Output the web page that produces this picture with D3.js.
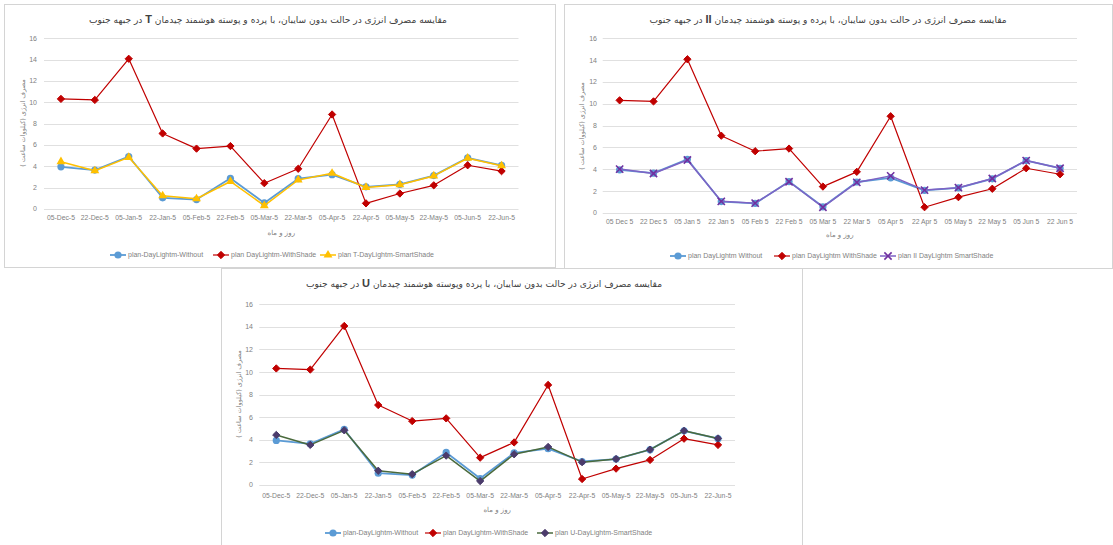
<!DOCTYPE html>
<html>
<head>
<meta charset="utf-8">
<script src="https://cdn.jsdelivr.net/npm/d3@7"></script>
<style>
  html, body { margin: 0; padding: 0; background: #fff; }
  svg { display: block; }
  .tick-label { font-family: "Liberation Sans", Arial, sans-serif; fill: #7f7f7f; }
  .fa { font-family: "DejaVu Sans", sans-serif; }
</style>
</head>
<body>
<svg id="chart" width="1113" height="545"></svg>
<script>
// Sampling dates (day-month)
const datesDash = ["05-Dec-5","22-Dec-5","05-Jan-5","22-Jan-5","05-Feb-5","22-Feb-5","05-Mar-5",
                   "22-Mar-5","05-Apr-5","22-Apr-5","05-May-5","22-May-5","05-Jun-5","22-Jun-5"];
const datesSpace = ["05 Dec 5","22 Dec 5","05 Jan 5","22 Jan 5","05 Feb 5","22 Feb 5","05 Mar 5",
                    "22 Mar 5","05 Apr 5","22 Apr 5","05 May 5","22 May 5","05 Jun 5","22 Jun 5"];
const yTicks = [0, 2, 4, 6, 8, 10, 12, 14, 16];

// Energy use (kWh) of the south facade
const withoutShade = [3.95, 3.65, 4.92, 1.05, 0.88, 2.88, 0.57, 2.84, 3.22, 2.08, 2.30, 3.13, 4.80, 4.10];
const withShade    = [10.32, 10.22, 14.08, 7.08, 5.66, 5.90, 2.42, 3.77, 8.86, 0.53, 1.45, 2.22, 4.10, 3.55];
const smartT       = [4.43, 3.58, 4.84, 1.24, 0.96, 2.58, 0.32, 2.72, 3.35, 2.02, 2.28, 3.10, 4.76, 4.05];
const smartII      = [4.02, 3.62, 4.86, 1.07, 0.90, 2.86, 0.53, 2.80, 3.40, 2.10, 2.32, 3.16, 4.80, 4.10];
const smartU       = [4.43, 3.55, 4.84, 1.26, 0.96, 2.60, 0.35, 2.72, 3.37, 2.02, 2.30, 3.13, 4.80, 4.12];

const svg = d3.select("#chart");

const titleStart = "مقایسه مصرف انرژی در حالت بدون سایبان، با پرده و پوسته هوشمند چیدمان ";
const titleStartU = "مقایسه مصرف انرژی در حالت بدون سایبان، با پرده وپوسته هوشمند چیدمان ";
const titleEnd = " در جبهه جنوب";
const yTitle = "مصرف انرژی (کیلووات ساعت )";
const xTitle = "روز و ماه";

const panels = [
  {
    frame: [4.5, 4.5, 551, 263], plot: [44, 518.5, 38.3, 209],
    title: [titleStart, "T", " " + titleEnd], titleX: 268, titleY: 20,
    labels: datesDash, labelY: 218, xTitleY: 233, yLabelX: 37, yTitleX: 23, yTitleY: 123,
    legendY: 255, legendX: [110, 213, 320],
    series: [
      { name: "plan-DayLightm-Without", values: withoutShade, color: "#5B9BD5", mark: "circle", width: 1.8 },
      { name: "plan DayLightm-WithShade", values: withShade, color: "#C00000", mark: "diamond", width: 1.2 },
      { name: "plan T-DayLightm-SmartShade", values: smartT, color: "#FFC000", mark: "triangle", width: 1.5 }
    ]
  },
  {
    frame: [564.5, 4.5, 548, 264], plot: [602.7, 1077, 38.3, 213],
    title: [titleStart, "II", titleEnd], titleX: 828, titleY: 20,
    labels: datesSpace, labelY: 222, xTitleY: 235, yLabelX: 597, yTitleX: 582, yTitleY: 126,
    legendY: 256, legendX: [670, 774, 880],
    series: [
      { name: "plan DayLightm Without", values: withoutShade, color: "#5B9BD5", mark: "circle", width: 1.8 },
      { name: "plan DayLightm WithShade", values: withShade, color: "#C00000", mark: "diamond", width: 1.2 },
      { name: "plan II DayLightm SmartShade", values: smartII, color: "#7E62C4", mark: "x", markColor: "#7030A0", width: 1.5 }
    ]
  },
  {
    frame: [221.5, 268.5, 581, 290], plot: [259.3, 735, 304.3, 485],
    title: [titleStartU, "U", " " + titleEnd], titleX: 484, titleY: 284,
    labels: datesDash, labelY: 496, xTitleY: 510, yLabelX: 253, yTitleX: 239, yTitleY: 394,
    legendY: 533, legendX: [325, 425, 537],
    series: [
      { name: "plan-DayLightm-Without", values: withoutShade, color: "#5B9BD5", mark: "circle", width: 1.8 },
      { name: "plan DayLightm-WithShade", values: withShade, color: "#C00000", mark: "diamond", width: 1.2 },
      { name: "plan U-DayLightm-SmartShade", values: smartU, color: "#4A6A3C", mark: "diamond", markColor: "#4B3B6B", width: 1.5 }
    ]
  }
];

function drawMarker(g, s, x, y) {
  const c = s.markColor || s.color;
  if (s.mark === "circle") {
    g.append("circle").attr("cx", x).attr("cy", y).attr("r", 3.6).attr("fill", c);
  } else if (s.mark === "diamond") {
    g.append("path").attr("d", d3.symbol(d3.symbolDiamond2, 34)())
      .attr("transform", `translate(${x},${y})`).attr("fill", c)
      .attr("stroke", c).attr("stroke-width", 1).attr("stroke-linejoin", "round");
  } else if (s.mark === "triangle") {
    g.append("path").attr("d", d3.symbol(d3.symbolTriangle, 34)())
      .attr("transform", `translate(${x},${y})`).attr("fill", c);
  } else if (s.mark === "x") {
    g.append("path").attr("d", d3.symbol(d3.symbolX, 36)())
      .attr("transform", `translate(${x},${y})`).attr("fill", "none")
      .attr("stroke", c).attr("stroke-width", 1.6);
  }
}

panels.forEach(p => {
  const g = svg.append("g");
  const [fx, fy, fw, fh] = p.frame;
  g.append("rect").attr("x", fx).attr("y", fy).attr("width", fw).attr("height", fh)
    .attr("fill", "#fff").attr("stroke", "#d4d4d4").attr("stroke-width", 1);

  const [x0, x1, yTop, yBot] = p.plot;
  const x = d3.scalePoint().domain(p.labels).range([x0, x1]).padding(0.5);
  const y = d3.scaleLinear().domain([0, 16]).range([yBot, yTop]);

  // Gridlines
  g.append("g").selectAll("line").data(yTicks).join("line")
    .attr("x1", x0).attr("x2", x1)
    .attr("y1", d => Math.round(y(d)) + 0.5).attr("y2", d => Math.round(y(d)) + 0.5)
    .attr("stroke", "#e0e0e0").attr("stroke-width", 1);

  // Y tick labels
  g.append("g").selectAll("text").data(yTicks).join("text")
    .attr("class", "tick-label")
    .attr("x", p.yLabelX).attr("y", d => y(d)).attr("dy", "0.35em")
    .attr("text-anchor", "end").attr("font-size", 7).text(d => d);

  // X tick labels
  g.append("g").selectAll("text").data(p.labels).join("text")
    .attr("class", "tick-label")
    .attr("x", d => x(d)).attr("y", p.labelY).attr("dy", "0.35em")
    .attr("text-anchor", "middle").attr("font-size", 6.8).text(d => d);

  // Axis titles
  g.append("text").attr("class", "fa").attr("direction", "rtl")
    .attr("x", (x0 + x1) / 2).attr("y", p.xTitleY).attr("dy", "0.35em")
    .attr("text-anchor", "middle").attr("font-size", 7).attr("fill", "#7f7f7f").text(xTitle);
  g.append("text").attr("class", "fa").attr("direction", "rtl")
    .attr("transform", `translate(${p.yTitleX},${p.yTitleY}) rotate(-90)`)
    .attr("text-anchor", "middle").attr("dy", "0.35em")
    .attr("font-size", 6.5).attr("fill", "#7f7f7f").text(yTitle);

  // Title
  const t = g.append("text").attr("class", "fa").attr("direction", "rtl")
    .attr("x", p.titleX).attr("y", p.titleY).attr("dy", "0.35em")
    .attr("text-anchor", "middle").attr("font-size", 9.1).attr("fill", "#404040");
  t.append("tspan").text(p.title[0]);
  t.append("tspan").attr("font-weight", "bold").attr("font-family", "Liberation Sans, Arial, sans-serif")
    .attr("font-size", 11).text(p.title[1]);
  t.append("tspan").text(p.title[2]);

  // Series
  const line = d3.line().x((d, i) => x(p.labels[i])).y(d => y(d));
  p.series.forEach(s => {
    const sg = g.append("g");
    sg.append("path").datum(s.values).attr("d", line)
      .attr("fill", "none").attr("stroke", s.color).attr("stroke-width", s.width)
      .attr("stroke-linejoin", "round");
    s.values.forEach((v, i) => drawMarker(sg, s, x(p.labels[i]), y(v)));
  });

  // Legend
  p.series.forEach((s, i) => {
    const lx = p.legendX[i];
    const lg = g.append("g");
    lg.append("line").attr("x1", lx).attr("x2", lx + 16)
      .attr("y1", p.legendY).attr("y2", p.legendY)
      .attr("stroke", s.color).attr("stroke-width", s.width);
    drawMarker(lg, s, lx + 8, p.legendY);
    lg.append("text").attr("class", "tick-label")
      .attr("x", lx + 18).attr("y", p.legendY).attr("dy", "0.35em")
      .attr("font-size", 7).attr("fill", "#7f7f7f").text(s.name);
  });
});
</script>
</body>
</html>
